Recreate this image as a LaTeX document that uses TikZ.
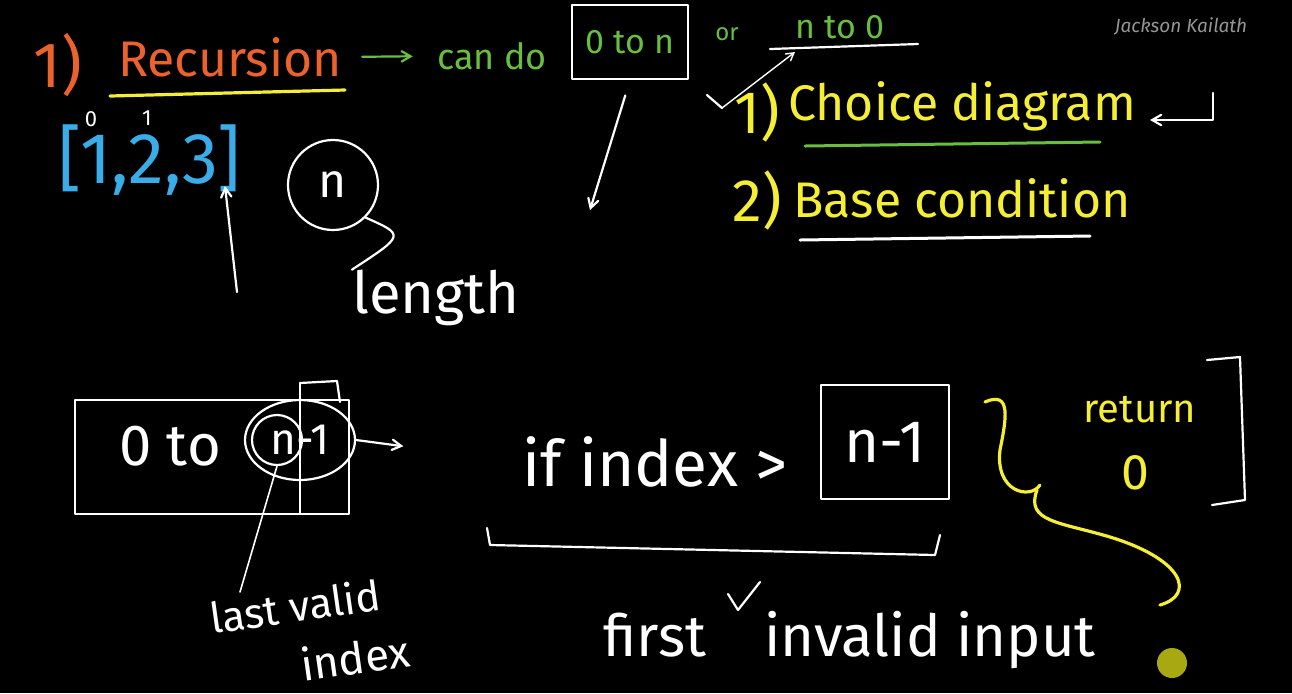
\documentclass[tikz,border=0pt]{standalone}
\usepackage{fontspec}
\setmainfont{Fira Sans}
\usepackage{xcolor}
\usetikzlibrary{shapes,arrows,positioning}

\definecolor{chalkorange}{RGB}{236,98,44}
\definecolor{chalkgreen}{RGB}{104,190,62}
\definecolor{chalkyellow}{RGB}{244,238,52}
\definecolor{chalkblue}{RGB}{58,172,232}
\definecolor{signgrey}{RGB}{150,150,150}
\definecolor{cursorolive}{RGB}{168,168,18}

\begin{document}
\begin{tikzpicture}[x=0.5pt, y=-0.5pt,
    chalk/.style={draw=white, line width=1.1pt, line cap=round, line join=round},
    arrow/.style={chalk, ->, >=angle 60},
    word/.style={font=\fontsize{#1}{#1}\selectfont, inner sep=0pt, text=white},
    frame/.style={chalk, rectangle, inner sep=0pt}
]

% board
\fill[black] (0,0) rectangle (1292,693);
\useasboundingbox (0,0) rectangle (1292,693);

% Title line
\node[word=32, text=chalkorange] (numone) at (58,65) {1)};
\node[word=25, text=chalkorange] (recursion) at (230,57) {Recursion};
\draw[chalk, draw=chalkyellow, line width=1.6pt] (110,96) -- (345,90);
\node[word=18, text=chalkgreen] (cando) at (492,56) {can do};
\draw[arrow, draw=chalkgreen, shorten <=10pt, shorten >=12pt] (recursion.east) -- (cando.west);
\node[word=17, text=chalkgreen, frame, minimum width=58pt, minimum height=37pt] (zeroton) at (630,42) {0 to n};
\node[word=12, text=chalkgreen] (orword) at (727,34) {or};
\node[word=17, text=chalkgreen] (ntozero) at (840,27) {n to 0};
\draw[chalk] (770,49) -- (918,44);

% Steps
\node[word=30, text=chalkyellow] (stepone) at (757,112) {1)};
\node[word=25, text=chalkyellow] (choice) at (962,106) {Choice diagram};
\draw[chalk, draw=chalkgreen, line width=1.5pt] (805,146) -- (1100,142);
\node[word=30, text=chalkyellow] (steptwo) at (757,200) {2)};
\node[word=25, text=chalkyellow] (base) at (962,198) {Base condition};
\draw[chalk, line width=1.5pt] (800,240) -- (1090,236);
\node[word=9.5, text=signgrey, font=\fontsize{9.5}{9.5}\selectfont\itshape] (sign) at (1181,26) {Jackson Kailath};

% tick to n to 0
\coordinate (tickbend) at (722,108);
\coordinate (ntozerotip) at (795,52);
\draw[chalk] (707,95) -- (tickbend);
\draw[arrow, line width=0.7pt] (tickbend) -- (ntozerotip);

% return arrow
\coordinate (rettop) at (1213,93);
\coordinate (rettip) at (1150,120);
\draw[arrow] (rettop) |- (rettip);

% Array and length
\node[word=36, text=chalkblue] (list) at (150,160) {[1,2,3]};
\node[word=11] (idxzero) at (91,119) {0};
\node[word=11] (idxone) at (147,118) {1};
\coordinate (uptail) at (237,292);
\draw[arrow] (uptail) -- (225,186);
\node[word=24, circle, chalk, minimum size=45pt] (len) at (333,185) {n};
\node[word=29] (length) at (436,298) {length};
\draw[chalk] (len.south east) .. controls (405,235) .. (length.north west);
\coordinate (downtip) at (590,210);
\draw[arrow, shorten <=8pt] (zeroton.south) -- (downtip);

% Range box
\node[frame, minimum width=137pt, minimum height=57pt] (range) at (212,457) {};
\draw[chalk] (300,383) -- (300,514);
\draw[chalk] (300,383) -- (337,381) -- (340,402);
\node[word=29] (zeroto) at (170,446) {0 to};
\node[word=22, ellipse, chalk, minimum width=55pt, minimum height=40pt] (nminus) at (300,440) {n-1};
\node[circle, chalk, minimum size=25pt] (lastn) at (277,440) {};
\node[word=21, rotate=8] (lastvalid) at (295,606) {last valid};
\node[word=22, rotate=8] (idxword) at (355,657) {index};
\coordinate (lastvalidtip) at (240,592);
\draw[chalk, line width=0.8pt] (lastn.south) -- (lastvalidtip);

% Condition
\node[word=32] (cond) at (655,462) {if index >};
\draw[arrow, shorten >=60pt] (nminus.east) -- (cond.west);
\node[word=30, frame, minimum width=64pt, minimum height=57pt] (limit) at (885,442) {n-1};
\draw[chalk] (487,528) -- (490,545) -- (935,555) -- (940,535);

% Return value
\node[word=20, text=chalkyellow] (returnword) at (1140,410) {return};
\node[word=25, text=chalkyellow] (retzero) at (1135,473) {0};
\draw[chalk] (1207,360) -- (1240,357) -- (1245,500) -- (1212,505);
\draw[chalk, draw=chalkyellow, line width=1.6pt] (985,402) .. controls (1012,390) and (1006,420) .. (1000,450)
    .. controls (995,492) and (1030,500) .. (1040,485);
\draw[chalk, draw=chalkyellow, line width=1.6pt] (1037,490) .. controls (1025,522) and (1060,522) .. (1110,537)
    .. controls (1185,560) and (1195,595) .. (1160,605);

% Invalid input
\node[word=29] (first) at (655,635) {first};
\draw[chalk] (728,594) -- (738,610) -- (760,582);
\node[word=29] (invalid) at (930,640) {invalid input};

% cursor
\fill[cursorolive] (1172,663) circle (7.5pt);

\end{tikzpicture}
\end{document}
